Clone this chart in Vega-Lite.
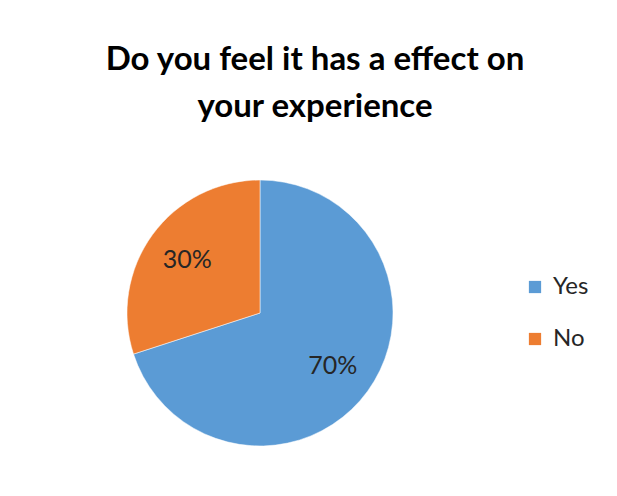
{
  "$schema": "https://vega.github.io/schema/vega-lite/v6.json",
  "width": 266,
  "height": 266,
  "autosize": "none",
  "padding": {"left": 127, "top": 180, "right": 224, "bottom": 50},
  "background": "white",
  "title": {
    "text": ["Do you feel it has a effect on", "your experience"],
    "font": "Lato",
    "fontSize": 33,
    "fontWeight": "bold",
    "color": "#000000",
    "lineHeight": 47,
    "anchor": "middle",
    "dx": 55,
    "offset": 55
  },
  "data": {
    "values": [
      {"answer": "Yes", "share": 0.7},
      {"answer": "No", "share": 0.3}
    ]
  },
  "encoding": {
    "theta": {"field": "share", "type": "quantitative", "stack": true},
    "order": {"field": "answer", "sort": "descending"}
  },
  "layer": [
    {
      "mark": {"type": "arc", "outerRadius": 133, "stroke": "white", "strokeWidth": 0.5},
      "encoding": {
        "color": {
          "field": "answer",
          "type": "nominal",
          "scale": {"domain": ["Yes", "No"], "range": ["#5B9BD5", "#ED7D31"]},
          "legend": {
            "title": null,
            "orient": "none",
            "legendX": 396,
            "legendY": 95,
            "symbolType": "square",
            "symbolSize": 150,
            "symbolStrokeWidth": 0,
            "labelFont": "Lato",
            "labelFontSize": 24,
            "labelColor": "#262626",
            "labelOffset": 6,
            "rowPadding": 28
          }
        }
      }
    },
    {
      "mark": {"type": "text", "radius": 90, "font": "Lato", "fontSize": 25},
      "encoding": {
        "detail": {"field": "answer", "type": "nominal"},
        "color": {"value": "#262626"},
        "text": {"field": "share", "type": "quantitative", "format": ".0%"}
      }
    }
  ],
  "config": {"view": {"stroke": null}}
}
